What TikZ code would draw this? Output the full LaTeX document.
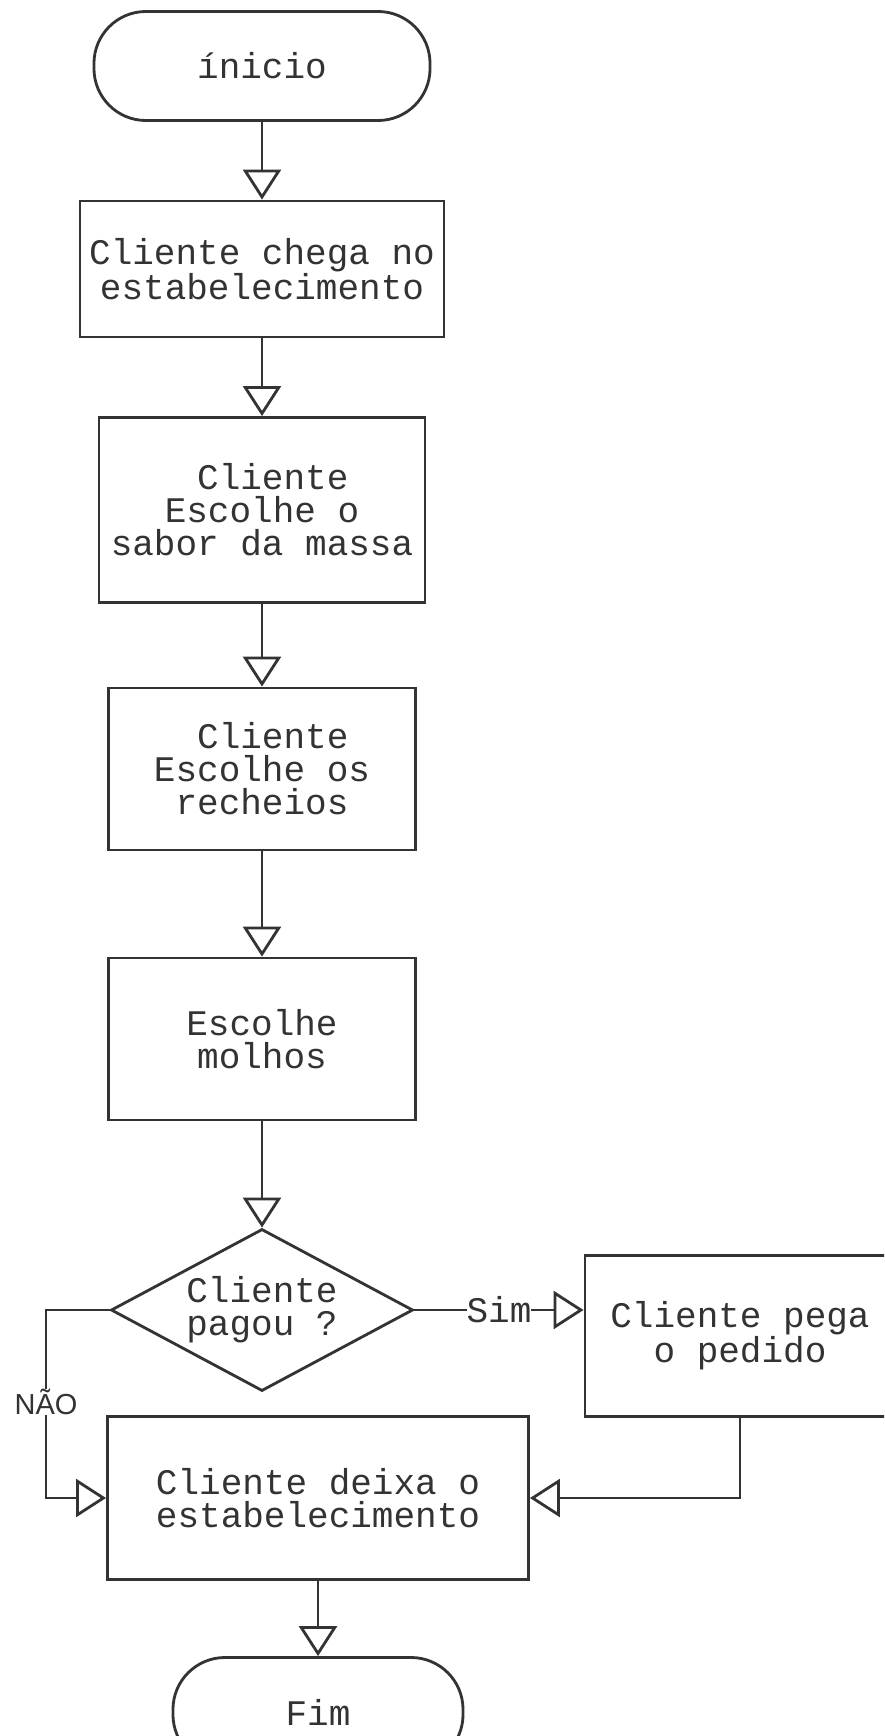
\documentclass[tikz,border=0pt]{standalone}
\usepackage{fontspec}
\usetikzlibrary{shapes.geometric,arrows.meta}
\newfontfamily\fontecaixa{Liberation Mono}
\newfontfamily\fonterotulo{Liberation Sans}
\definecolor{tinta}{HTML}{333333}

\begin{document}
\begin{tikzpicture}[x=0.025cm,y=-0.025cm,
  every node/.style={font=\fontecaixa\fontsize{25.6pt}{23.5pt}\selectfont,text=tinta,align=center},
  caixa/.style={draw=tinta,line width=2pt,rectangle,inner sep=0pt},
  terminal/.style={caixa,rounded corners=1.3cm},
  decisao/.style={draw=tinta,line width=2pt,diamond,aspect=1.86,inner sep=0pt,
    minimum width=7.55cm,minimum height=4.05cm},
  seta/.style={draw=tinta,line width=2pt,-{Triangle[open,length=0.75cm,width=0.95cm]}},
  rotulo/.style={fill=white,inner sep=0pt}]
  % moldura
  \useasboundingbox (0,0) rectangle (884,1736);
  \clip (0,0) rectangle (884,1736);

  % etapas
  \node[terminal,minimum width=8.4cm,minimum height=2.725cm] (inicio) at (262,66) {ínicio};
  \node[caixa,minimum width=9.1cm,minimum height=3.4cm] (chega) at (262,269)
    {Cliente chega no\\estabelecimento};
  \node[caixa,minimum width=8.15cm,minimum height=4.625cm] (massa) at (262,510)
    {\hspace*{.6em}Cliente\\Escolhe o\\sabor da massa};
  \node[caixa,minimum width=7.675cm,minimum height=4.05cm] (recheios) at (262,769)
    {\hspace*{.6em}Cliente\\Escolhe os\\recheios};
  \node[caixa,minimum width=7.675cm,minimum height=4.05cm] (molhos) at (262,1039)
    {Escolhe\\molhos};
  \node[decisao] (pagou) at (262,1310) {Cliente\\pagou ?};
  \node[caixa,minimum width=7.75cm,minimum height=4.025cm] (pedido) at (740,1336)
    {Cliente pega\\o pedido};
  \node[caixa,minimum width=10.525cm,minimum height=4.075cm] (deixa) at (318,1498)
    {Cliente deixa o\\estabelecimento};
  \node[terminal,minimum width=7.25cm,minimum height=2.725cm] (fim) at (318,1712) {Fim};

  % setas
  \foreach \a/\b in {inicio/chega,chega/massa,massa/recheios,recheios/molhos,molhos/pagou}
    \draw[seta] (\a) -- (\b);
  \draw[seta] (pagou.east) -- node[rotulo] {Sim} (pagou.east -| pedido.west);
  \coordinate (nao) at (46,1310);
  \draw[seta] (pagou.west) -- (nao) |- node[rotulo,pos=0.245,
    font=\fonterotulo\fontsize{20.6pt}{22pt}\selectfont] {NÃO} (deixa.west);
  \draw[seta] (pedido.south) |- (deixa.east);
  \draw[seta] (deixa) -- (fim);
\end{tikzpicture}
\end{document}
